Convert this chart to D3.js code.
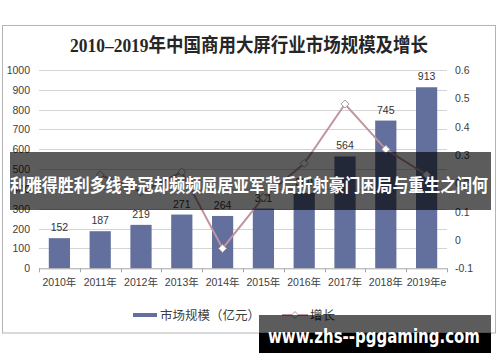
<!DOCTYPE html>
<html>
<head>
<meta charset="utf-8">
<script src="https://cdn.jsdelivr.net/npm/d3@7"></script>
<style>
    body { margin: 0; background: #fff; }
    text { font-family: "Liberation Sans", Arial, "Noto Sans CJK SC", sans-serif; }
</style>
</head>
<body>
<div id="chart"></div>
<script>
// data
const years = ['2010年', '2011年', '2012年', '2013年', '2014年', '2015年', '2016年', '2017年', '2018年', '2019年e'];
const marketSize = [152, 187, 219, 271, 264, 301, 380, 564, 745, 913];
const growth = [null, 0.23, 0.17, 0.24, -0.03, 0.15, 0.27, 0.48, 0.32, 0.23];
const leftTicks = [0, 100, 200, 300, 400, 500, 600, 700, 800, 900, 1000];
const rightTicks = [-0.1, 0, 0.1, 0.2, 0.3, 0.4, 0.5, 0.6];
const titleText = '2010–2019年中国商用大屏行业市场规模及增长';
const legendLabels = ['市场规模（亿元）', '增长'];
const bannerText = '利雅得胜利多线争冠却频频屈居亚军背后折射豪门困局与重生之问何';
const watermarkText = 'www.zhs--pggaming.com';

class ComboChart {
    constructor(_config) {
        this.config = {
            parentElement: _config.parentElement,
            containerWidth: 500,
            containerHeight: 362,
            margin: { top: 70, right: 53, bottom: 93.7, left: 39 }
        };
        this.initVis();
    }

    initVis() {
        let vis = this;
        vis.width = vis.config.containerWidth - vis.config.margin.left - vis.config.margin.right;
        vis.height = vis.config.containerHeight - vis.config.margin.top - vis.config.margin.bottom;

        vis.xScale = d3.scaleBand().domain(years).range([0, vis.width]).paddingInner(0.48).paddingOuter(0.24);
        vis.xBand = d3.scaleBand().domain(years).range([0, vis.width]);
        vis.yScale = d3.scaleLinear().domain([0, 1000]).range([vis.height, 0]);
        vis.y2Scale = d3.scaleLinear().domain([-0.1, 0.6]).range([vis.height, 0]);

        vis.svg = d3.select(vis.config.parentElement).append('svg')
            .attr('width', vis.config.containerWidth)
            .attr('height', vis.config.containerHeight);

        // frame
        vis.svg.append('rect')
            .attr('x', 2.5).attr('y', 25.5)
            .attr('width', 493).attr('height', 307.5)
            .attr('fill', '#fff').attr('stroke', '#b4b4b4');

        // title
        vis.svg.append('text')
            .attr('x', 249).attr('y', 52)
            .attr('text-anchor', 'middle')
            .style('font-family', '"Liberation Serif", "Noto Sans CJK SC", serif')
            .attr('font-size', 19).attr('font-weight', 'bold')
            .attr('fill', '#262626')
            .attr('textLength', 358).attr('lengthAdjust', 'spacingAndGlyphs')
            .text(titleText);

        vis.chart = vis.svg.append('g')
            .attr('transform', `translate(${vis.config.margin.left},${vis.config.margin.top})`);
    }

    renderVis() {
        let vis = this;

        // gridlines
        vis.chart.append('g').selectAll('line')
            .data(leftTicks.slice(1))
            .join('line')
            .attr('x1', 0).attr('x2', vis.width)
            .attr('y1', d => Math.round(vis.yScale(d)) + 0.5)
            .attr('y2', d => Math.round(vis.yScale(d)) + 0.5)
            .attr('stroke', '#d4d4d4');

        // left axis labels
        vis.chart.append('g').selectAll('text')
            .data(leftTicks)
            .join('text')
            .attr('x', -9).attr('y', d => vis.yScale(d) + 4)
            .attr('text-anchor', 'end')
            .attr('font-size', 10.5).attr('fill', '#404040')
            .text(d => d);

        // right axis labels
        vis.chart.append('g').selectAll('text')
            .data(rightTicks)
            .join('text')
            .attr('x', vis.width + 8).attr('y', d => vis.y2Scale(d) + 4)
            .attr('font-size', 10.5).attr('fill', '#404040')
            .text(d => d === 0 ? '0' : d.toFixed(1));

        // bars
        vis.chart.append('g').selectAll('rect')
            .data(marketSize)
            .join('rect')
            .attr('x', (d, i) => vis.xScale(years[i]))
            .attr('width', vis.xScale.bandwidth())
            .attr('y', d => vis.yScale(d))
            .attr('height', d => vis.height - vis.yScale(d))
            .attr('fill', '#63709e');

        // bar labels
        vis.chart.append('g').selectAll('text')
            .data(marketSize)
            .join('text')
            .attr('x', (d, i) => vis.xScale(years[i]) + vis.xScale.bandwidth() / 2)
            .attr('y', d => vis.yScale(d) - 7)
            .attr('text-anchor', 'middle')
            .attr('font-size', 10.5).attr('fill', '#333')
            .text(d => d);

        // x axis
        vis.xAxisG = vis.chart.append('g')
            .attr('transform', `translate(0,${vis.height})`);
        vis.xAxisG.append('line')
            .attr('x1', 0).attr('x2', vis.width)
            .attr('y1', 0.5).attr('y2', 0.5)
            .attr('stroke', '#a6a6a6');
        vis.xAxisG.selectAll('.tick')
            .data(years.concat(['end']))
            .join('line')
            .attr('class', 'tick')
            .attr('x1', (d, i) => Math.round(i * vis.xBand.bandwidth()) + 0.5)
            .attr('x2', (d, i) => Math.round(i * vis.xBand.bandwidth()) + 0.5)
            .attr('y1', 0).attr('y2', 4)
            .attr('stroke', '#a6a6a6');
        vis.xAxisG.selectAll('.xlabel')
            .data(years)
            .join('text')
            .attr('class', 'xlabel')
            .attr('x', d => vis.xBand(d) + vis.xBand.bandwidth() / 2)
            .attr('y', 17.5)
            .attr('text-anchor', 'middle')
            .attr('font-size', 10.5).attr('fill', '#404040')
            .text(d => d);

        // growth line
        let points = growth.map((g, i) => ({ year: years[i], g })).filter(d => d.g !== null);
        let line = d3.line()
            .x(d => vis.xBand(d.year) + vis.xBand.bandwidth() / 2)
            .y(d => vis.y2Scale(d.g));
        vis.chart.append('path')
            .datum(points)
            .attr('d', line)
            .attr('fill', 'none')
            .attr('stroke', '#bf949c')
            .attr('stroke-width', 2);
        vis.chart.append('g').selectAll('path')
            .data(points)
            .join('path')
            .attr('d', d3.symbol().type(d3.symbolDiamond2).size(40))
            .attr('transform', d => `translate(${vis.xBand(d.year) + vis.xBand.bandwidth() / 2},${vis.y2Scale(d.g)})`)
            .attr('fill', '#fff')
            .attr('stroke', '#a9a0a3')
            .attr('stroke-width', 1);

        // legend
        let legend = vis.svg.append('g');
        legend.append('rect')
            .attr('x', 133).attr('y', 313).attr('width', 24).attr('height', 4)
            .attr('fill', '#63709e');
        legend.append('text')
            .attr('x', 160).attr('y', 320)
            .attr('font-size', 12.5).attr('fill', '#404040')
            .text(legendLabels[0]);
        legend.append('line')
            .attr('x1', 282).attr('x2', 308).attr('y1', 315).attr('y2', 315)
            .attr('stroke', '#bf949c').attr('stroke-width', 2);
        legend.append('path')
            .attr('d', d3.symbol().type(d3.symbolDiamond2).size(30))
            .attr('transform', 'translate(295,315)')
            .attr('fill', '#fff').attr('stroke', '#a9a0a3');
        legend.append('text')
            .attr('x', 310).attr('y', 320)
            .attr('font-size', 12.5).attr('fill', '#404040')
            .text(legendLabels[1]);

        // overlay banner
        vis.svg.append('rect')
            .attr('x', 10).attr('y', 152).attr('width', 481).attr('height', 58)
            .attr('fill', '#000').attr('fill-opacity', 0.64);
        vis.svg.append('text')
            .attr('x', 10).attr('y', 192)
            .style('font-family', '"Noto Sans CJK SC", sans-serif')
            .attr('font-size', 18).attr('font-weight', 'bold')
            .attr('fill', '#fff')
            .attr('textLength', 478).attr('lengthAdjust', 'spacingAndGlyphs')
            .text(bannerText);

        // watermark
        vis.svg.append('rect')
            .attr('x', 259).attr('y', 315).attr('width', 232).attr('height', 18)
            .attr('fill', '#000').attr('fill-opacity', 0.64);
        vis.svg.append('rect')
            .attr('x', 259).attr('y', 333).attr('width', 232).attr('height', 20)
            .attr('fill', '#000');
        vis.svg.append('text')
            .attr('x', 268).attr('y', 343)
            .style('font-family', '"DejaVu Sans", sans-serif')
            .attr('font-size', 20).attr('font-weight', 'bold')
            .attr('fill', '#fff')
            .attr('textLength', 212).attr('lengthAdjust', 'spacingAndGlyphs')
            .text(watermarkText);
    }
}

let chart = new ComboChart({ parentElement: '#chart' });
chart.renderVis();
</script>
</body>
</html>
